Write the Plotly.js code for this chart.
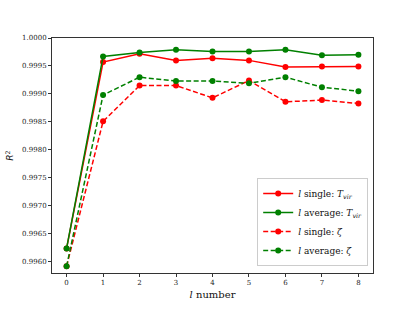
<!DOCTYPE html>
<html>
<head>
<meta charset="utf-8">
<script src="https://cdn.plot.ly/plotly-3.0.1.min.js"></script>
<style>html,body{margin:0;padding:0;background:#fff;}</style>
</head>
<body>
<div id="chart" style="width:415px;height:312px;"></div>
<script>
const lNumbers = [0, 1, 2, 3, 4, 5, 6, 7, 8];
const singleTvir = [0.99624, 0.99957, 0.99972, 0.99960, 0.99964, 0.99960, 0.99948, 0.99949, 0.99949];
const averageTvir = [0.99624, 0.99967, 0.99974, 0.99979, 0.99976, 0.99976, 0.99979, 0.99969, 0.99970];
const singleZeta = [0.99592, 0.99851, 0.99915, 0.99915, 0.99893, 0.99924, 0.99886, 0.99889, 0.99883];
const averageZeta = [0.99592, 0.99898, 0.99930, 0.99923, 0.99923, 0.99919, 0.99930, 0.99912, 0.99905];
const seriesNames = [
  "<i>l</i> single: <i>T</i><sub><i>vir</i></sub>",
  "<i>l</i> average: <i>T</i><sub><i>vir</i></sub>",
  "<i>l</i> single: <i>ζ</i>",
  "<i>l</i> average: <i>ζ</i>"
];

function tr(y, name, color, dash) {
  return {
    x: lNumbers, y: y, name: name, type: 'scatter', mode: 'lines+markers',
    line: {color: color, width: 1.5, dash: dash},
    marker: {color: color, size: 6}
  };
}
const data = [
  tr(singleTvir, seriesNames[0], '#ff0000', 'solid'),
  tr(averageTvir, seriesNames[1], '#008000', 'solid'),
  tr(singleZeta, seriesNames[2], '#ff0000', '5px,2.5px'),
  tr(averageZeta, seriesNames[3], '#008000', '5px,2.5px')
];
const axisCommon = {
  showgrid: false, zeroline: false, showline: true, mirror: true,
  linecolor: '#333', linewidth: 1, ticks: 'outside', ticklen: 3, tickwidth: 1, tickcolor: '#333',
  tickfont: {family: 'DejaVu Serif', size: 7, color: '#222'}
};
const layout = {
  width: 415, height: 312,
  margin: {l: 52, r: 42, t: 38, b: 39},
  paper_bgcolor: '#fff', plot_bgcolor: '#fff',
  showlegend: true,
  xaxis: Object.assign({}, axisCommon, {
    range: [-0.4, 8.4], tickmode: 'array', tickvals: lNumbers, ticktext: lNumbers.map(String),
    title: {text: '<i>l</i> number', font: {family: 'DejaVu Serif', size: 10, color: '#111'}, standoff: 4}
  }),
  yaxis: Object.assign({}, axisCommon, {
    range: [0.99580, 1.0000], dtick: 0.0005, tick0: 0.996, tickformat: '.4f',
    title: {text: '<i>R</i><sup>2</sup>', font: {family: 'DejaVu Sans', size: 9, color: '#111'}, standoff: 6}
  }),
  legend: {
    x: 0.985, y: 0.03, xanchor: 'right', yanchor: 'bottom',
    bgcolor: 'rgba(255,255,255,0.9)', bordercolor: '#ccc', borderwidth: 1,
    font: {family: 'DejaVu Serif', size: 9, color: '#111'},
    itemwidth: 30, tracegroupgap: 0
  }
};
Plotly.newPlot('chart', data, layout, {displayModeBar: false, staticPlot: true});
</script>
</body>
</html>
